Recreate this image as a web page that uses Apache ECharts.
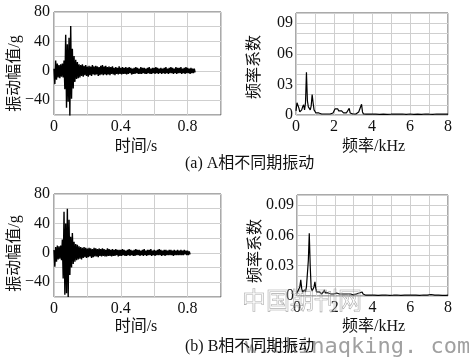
<!DOCTYPE html>
<html><head><meta charset="utf-8">
<script src="https://cdn.jsdelivr.net/npm/echarts@6/dist/echarts.min.js"></script>
<style>html,body{margin:0;padding:0;background:#fff}#c{width:469px;height:359px}</style>
</head><body><div id="c"></div>
<script>
// ---- data ----
const SAMPLE_DT = 0.005; // s between samples
const sigA = [
 3,-18,14,-12,10,-9,8,-10,9,-8,
 10,-9,14,-25,49,-50,36,-42,45,-61,
 61,-38,30,-24,20,-15,15,-11,12,-10,
 9,-9,8,-7,9,-8,7,-6,8,-7,
 6,-8,7,-6,6,-7,8,-5,6,-6,
 7,-5,6,-7,5,-6,7,-5,8,-6,
 6,-5,7,-6,5,-5,6,-6,5,-4,
 6,-5,4,-6,5,-4,4,-5,6,-4,
 4,-5,5,-4,4,-4,5,-5,4,-4,
 5,-3,4,-5,3,-4,4,-4,5,-3,
 4,-4,3,-4,5,-4,4,-3,4,-4,
 3,-4,4,-3,5,-4,3,-4,4,-3,
 4,-4,5,-3,4,-4,3,-3,4,-4,
 3,-3,4,-4,5,-3,3,-4,4,-3,
 5,-3,4,-4,3,-3,5,-4,4,-3,
 4,-3,5,-4,3,-3,4,-4,5,-3,
 4,-3,3,-4,4,-3,3,-3,3,-2
];
const sigB = [
 4,-19,8,-12,10,-9,9,-8,10,-10,
 18,-35,56,-57,40,-55,60,-60,45,-30,
 22,-20,27,-15,15,-12,12,-10,11,-9,
 9,-8,8,-9,7,-7,8,-6,7,-7,
 6,-6,7,-5,6,-7,5,-6,7,-5,
 6,-5,5,-6,6,-4,5,-5,6,-4,
 5,-5,4,-5,6,-4,5,-4,4,-5,
 5,-4,4,-4,5,-3,4,-5,4,-4,
 4,-4,5,-3,4,-4,3,-4,4,-3,
 5,-4,4,-3,3,-4,4,-4,5,-3,
 4,-3,4,-4,3,-3,4,-4,5,-3,
 3,-4,4,-3,4,-3,5,-4,3,-3,
 4,-4,3,-3,4,-3,5,-3,4,-4,
 3,-3,4,-4,4,-3,3,-3,4,-3,
 4,-3,3,-4,4,-3,3,-3,4,-3,
 3,-3,4,-3,3,-3,4,-2,3,-3,
 3,-3,2,-2
];
const FREQ_STEP_LOW = 0.05;   // kHz, 0..4
const FREQ_START_HIGH = 4.1;  // kHz
const FREQ_STEP_HIGH = 0.1;   // kHz, 4.1..8
const specA_low = [
 0.004,0.012,0.013,0.007,0.003,0.003,0.005,0.008,0.010,0.005,
 0.012,0.042,0.014,0.008,0.009,0.005,0.009,0.020,0.012,0.005,
 0.004,0.002,0.003,0.002,0.002,0.003,0.002,0.001,0.002,0.001,
 0.001,0.002,0.001,0.001,0.001,0.002,0.001,0.001,0.002,0.002,
 0.003,0.006,0.0075,0.005,0.006,0.004,0.005,0.004,0.004,0.003,
 0.002,0.002,0.001,0.002,0.002,0.003,0.0065,0.002,0.001,0.001,
 0.001,0.001,0.002,0.001,0.001,0.002,0.003,0.004,0.004,0.0105,
 0.003,0.001,0.001,0.001,0.0008,0.001,0.0008,0.001,0.0008,0.001,
 0.0008
];
const specA_high = [
 0.001,0.0008,0.001,0.0007,0.001,0.0008,0.0009,0.0007,0.001,0.0008,
 0.0007,0.001,0.0008,0.0009,0.0007,0.001,0.0008,0.0007,0.0009,0.001,
 0.0008,0.0007,0.001,0.0008,0.0009,0.0007,0.0008,0.001,0.0007,0.0008,
 0.0009,0.0007,0.0008,0.001,0.0007,0.0008,0.0007,0.0009,0.0007,0.0008
];
const specB_low = [
 0.003,0.005,0.007,0.009,0.016,0.007,0.004,0.005,0.006,0.004,
 0.009,0.010,0.035,0.062,0.030,0.008,0.005,0.006,0.009,0.014,
 0.007,0.004,0.005,0.003,0.004,0.003,0.002,0.003,0.004,0.006,
 0.003,0.002,0.002,0.003,0.002,0.002,0.002,0.001,0.002,0.002,
 0.003,0.002,0.003,0.002,0.003,0.002,0.003,0.002,0.002,0.002,
 0.001,0.002,0.001,0.001,0.002,0.001,0.001,0.002,0.001,0.001,
 0.001,0.001,0.001,0.002,0.002,0.003,0.003,0.004,0.003,0.004,
 0.002,0.001,0.001,0.0008,0.001,0.0008,0.001,0.0008,0.001,0.0008,
 0.001
];
const specB_high = [
 0.0008,0.001,0.0007,0.0008,0.0009,0.0007,0.001,0.0008,0.0007,0.0009,
 0.0008,0.0007,0.001,0.0008,0.0007,0.0009,0.0008,0.0007,0.0008,0.001,
 0.0008,0.0007,0.0009,0.0008,0.0007,0.0008,0.001,0.0008,0.0009,0.0012,
 0.0015,0.001,0.0008,0.0007,0.0008,0.0009,0.0007,0.0008,0.0007,0.0008
];
const timeTickVals = [0, 0.4, 0.8];
const timeTickLabels = ['0', '0.4', '0.8'];
const ampTickVals = [80, 40, 0, -40];
const ampTickLabels = ['80', '40', '0', '\u221240'];
const freqTickVals = [0, 2, 4, 6, 8];
const freqTickLabels = ['0', '2', '4', '6', '8'];
const coefTickVals = [0, 0.03, 0.06, 0.09];
const coefTickLabelsA = ['0', '03', '06', '09'];
const coefTickLabelsB = ['0', '0.03', '0.06', '0.09'];

// ---- build ----
const FONT = "'Liberation Serif','Noto Sans CJK SC',serif";
function fmt(vals, labels) {
  return function (v) {
    const i = vals.findIndex(t => Math.abs(t - v) < 1e-9);
    return i < 0 ? '' : labels[i];
  };
}
const timeData = s => s.map((v, i) => [i * SAMPLE_DT, v]);
const specData = (lo, hi) => lo.map((v, i) => [i * FREQ_STEP_LOW, v])
  .concat(hi.map((v, i) => [FREQ_START_HIGH + i * FREQ_STEP_HIGH, v]));

const gridStyle = { show: true, borderColor: '#555', borderWidth: 1, backgroundColor: '#fff' };
const grids = [
  Object.assign({ left: 54, top: 12, width: 167, height: 103 }, gridStyle),
  Object.assign({ left: 296, top: 13, width: 152, height: 102 }, gridStyle),
  Object.assign({ left: 54, top: 194, width: 167, height: 103 }, gridStyle),
  Object.assign({ left: 297, top: 195, width: 151, height: 101 }, gridStyle)
];
const split = { show: true, lineStyle: { color: '#cfcfcf', width: 1 } };
const lab = (f, m) => ({ formatter: f, margin: m, fontFamily: FONT, fontSize: 16, color: '#111', showMinLabel: true, showMaxLabel: true });
function timeX(g) { return { type: 'value', gridIndex: g, min: 0, max: 1, interval: 0.2, axisLine: { show: false }, axisTick: { show: false }, splitLine: split, axisLabel: lab(fmt(timeTickVals, timeTickLabels), 4) }; }
function ampY(g) { return { type: 'value', gridIndex: g, min: -60, max: 80, interval: 20, axisLine: { show: false }, axisTick: { show: false }, splitLine: split, axisLabel: lab(fmt(ampTickVals, ampTickLabels), 4) }; }
function freqX(g) { return { type: 'value', gridIndex: g, min: 0, max: 8, interval: 1, axisLine: { show: false }, axisTick: { show: false }, splitLine: split, axisLabel: lab(fmt(freqTickVals, freqTickLabels), 4) }; }
function coefY(g, labels) { return { type: 'value', gridIndex: g, min: 0, max: 0.1, interval: 0.01, axisLine: { show: false }, axisTick: { show: false }, splitLine: split, axisLabel: lab(fmt(coefTickVals, labels), 3) }; }

const lineS = (xi, data, w) => ({
  type: 'line', xAxisIndex: xi, yAxisIndex: xi, data: data, showSymbol: false, symbol: 'none',
  clip: true, silent: true,
  lineStyle: { color: '#000', width: w }
});

function txt(text, x, y, opts) {
  opts = opts || {};
  const st = {
    text: text, font: (opts.size || 16) + 'px ' + (opts.family || FONT), fill: opts.fill || '#111',
    align: opts.align || 'center', verticalAlign: 'middle',
    textAlign: opts.align || 'center', textVerticalAlign: 'middle'
  };
  if (opts.stroke) { st.stroke = opts.stroke; st.lineWidth = opts.lw || 0.8; }
  return { type: 'text', x: x, y: y, rotation: opts.rot || 0, z: opts.z || 10, style: st };
}

const option = {
  animation: false,
  backgroundColor: '#fff',
  grid: grids,
  xAxis: [timeX(0), freqX(1), timeX(2), freqX(3)],
  yAxis: [ampY(0), coefY(1, coefTickLabelsA), ampY(2), coefY(3, coefTickLabelsB)],
  series: [
    lineS(0, timeData(sigA), 1.4),
    lineS(1, specData(specA_low, specA_high), 1.2),
    lineS(2, timeData(sigB), 1.4),
    lineS(3, specData(specB_low, specB_high), 1.2)
  ],
  graphic: [
    txt('振动幅值/g', 15, 73.5, { rot: Math.PI / 2 }),
    txt('时间/s', 136, 146.5),
    txt('频率系数', 255, 67, { rot: Math.PI / 2 }),
    txt('频率/kHz', 373.5, 146.5),
    txt('(a) A相不同期振动', 185, 163.5, { align: 'left' }),
    txt('振动幅值/g', 15, 253.5, { rot: Math.PI / 2 }),
    txt('时间/s', 136, 326.5),
    txt('频率系数', 255.5, 251, { rot: Math.PI / 2 }),
    txt('频率/kHz', 373.5, 326.5),
    txt('中国期刊网', 242, 300, { align: 'left', size: 24, family: "'Noto Sans CJK SC',sans-serif", fill: 'rgba(255,255,255,0.2)', stroke: 'rgba(120,120,120,0.7)', lw: 0.6, z: 20 }),
    txt('w.chinaqking. com', 245, 347, { align: 'left', size: 22, family: "'DejaVu Sans Mono',monospace", fill: '#a0a0a0', z: 5 }),
    txt('(b) B相不同期振动', 185, 347, { align: 'left', z: 10 })
  ]
};
const chart = echarts.init(document.getElementById('c'), null, { renderer: 'canvas' });
chart.setOption(option);
</script></body></html>
